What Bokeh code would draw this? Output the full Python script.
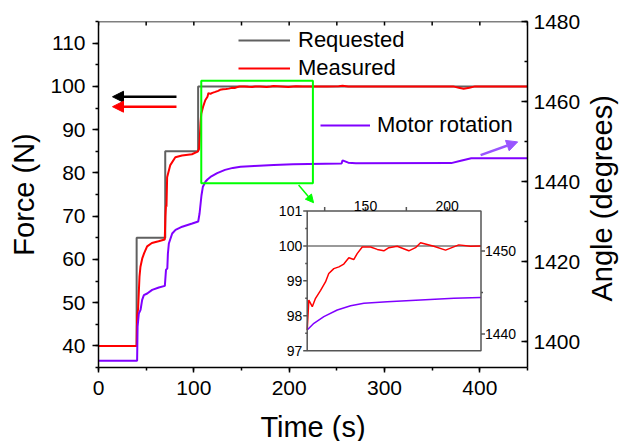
import numpy as np
from bokeh.plotting import figure
from bokeh.models import (Range1d, LinearAxis, SingleIntervalTicker, FixedTicker, Legend,
                          LegendItem, Arrow, NormalHead)
from bokeh.core.properties import value
from bokeh.embed import file_html
from bokeh.resources import INLINE

# ---------------- data ----------------
time_requested = [0, 40, 40, 70, 70, 104.5, 104.5, 450]
force_requested = [40, 40, 65, 65, 85, 85, 100, 100]

time_measured = [0, 40, 40.5, 41.5, 42.2, 43, 44, 46, 48, 51, 56, 63, 69.5, 70.2, 70.8, 71.3, 72,
                 75.3, 80.6, 87.6, 98, 104, 105.5, 106.2, 107, 107.8, 110, 112, 114.3, 115.3,
                 117.4, 119.4, 122.5, 125.5, 127.5, 130.6, 133.7, 136.7, 139.8, 142.8, 144.9,
                 148, 153.1, 157.2, 161.2, 164.3, 169.4, 176.5, 180.6, 183.7, 191.8, 199, 207.1,
                 214.3, 220.4, 240, 252, 256, 262, 300, 372, 378, 383, 389, 395, 450]
force_measured = [40, 40, 47, 48.5, 52, 56, 58.3, 60.3, 61.5, 63, 63.8, 64.2, 64.6, 70, 72.5, 72.2,
                  79, 81.8, 83.6, 84.0, 84.3, 84.9, 85.5, 88, 91.5, 93.7, 95.5, 96.8, 97.59, 98.45,
                  98.26, 98.5, 98.73, 98.97, 99.21, 99.35, 99.4, 99.48, 99.66, 99.61, 99.78,
                  99.97, 99.97, 99.9, 99.86, 99.95, 99.99, 99.86, 99.95, 100.09, 99.99, 99.88,
                  100.03, 99.99, 100, 99.95, 100.05, 100.15, 99.95, 100, 100, 99.7, 99.45, 99.7,
                  100, 100]

time_rotation = [0, 40.5, 41, 42.3, 44.1, 45.8, 47.6, 51.1, 56.3, 63.3, 69.6, 70.8, 72.2, 72.8,
                 73.8, 77.3, 80.8, 87.8, 98.3, 104.6, 106, 108, 109.5, 112.3, 114.3, 118.4, 124.5,
                 132.7, 140.9, 149, 163.3, 183.7, 204.1, 220.4, 255, 256, 262, 270, 370, 380,
                 391, 450]
angle_rotation = [1395.2, 1395.2, 1403.7, 1407, 1407.9, 1410.4, 1411.6, 1412.0, 1412.9, 1413.5,
                  1413.9, 1417.9, 1418.3, 1422, 1424.5, 1427, 1427.9, 1428.7, 1429.5, 1430, 1432,
                  1436.5, 1438.7, 1440.0, 1440.5, 1441.3, 1442.1, 1442.9, 1443.4, 1443.7, 1443.9,
                  1444.1, 1444.3, 1444.4, 1444.5, 1445.3, 1444.7, 1444.55, 1444.6, 1445.2,
                  1445.8, 1445.8]

main_x_limits = [0, 450]
main_force_limits = [35, 115]
main_angle_limits = [1393.5, 1480]
main_top_ticks = [0, 50, 100, 150, 200, 250, 300, 350, 400, 450]

inset_x_limits = [114.3, 220.7]
inset_force_limits = [97, 101]
inset_angle_limits = [1438, 1454.8]
inset_force_ticks = [97, 98, 99, 100, 101]
inset_force_minor = [97.5, 98.5, 99.5, 100.5]
inset_time_ticks = [150, 200]
inset_time_minor = [125, 175]
inset_angle_ticks = [1440, 1450]
inset_angle_minor = [1445]

zoom_box_time = [107.8, 224.9]
zoom_box_force = [77.6, 101.3]

arrow_black = [81.8, 97.6, 14.7, 97.6]
arrow_red = [81.8, 95.3, 14.7, 95.3]
arrow_purple = [400.8, 1446.6, 439.7, 1449.9]
arrow_green = [209.9, 77.2, 225.6, 73.1]

# ---------------- styling ----------------
FONT = "Liberation Sans"
C_REQ = "#606060"
C_MEAS = "#ff0000"
C_ROT = "#8000ff"
C_ROT_ARROW = "#9955ff"
C_GREEN = "#00ff00"
TICK_FS = "21px"
TITLE_FS = "29px"

B_L, B_R, B_T, B_B = 98, 112, 21, 92
FW, FH = 429, 346
W, H = B_L + FW + B_R, B_T + FH + B_B
p = figure(width=W, height=H, output_backend="svg", toolbar_location=None,
           x_range=Range1d(*main_x_limits), y_range=Range1d(*main_force_limits),
           min_border_left=B_L, min_border_right=B_R, min_border_top=B_T, min_border_bottom=B_B)
p.grid.visible = False
p.outline_line_color = None
p.background_fill_color = "white"
p.border_fill_color = "white"
p.extra_y_ranges = {"angle": Range1d(*main_angle_limits)}

def style_axis(ax, tick_out, tick_in, minor_out, minor_in, standoff, title=None, title_standoff=0):
    ax.axis_line_width = 1.5
    ax.axis_line_color = "black"
    ax.major_tick_line_width = 1.5
    ax.minor_tick_line_width = 1.5
    ax.major_tick_out = tick_out
    ax.major_tick_in = tick_in
    ax.minor_tick_out = minor_out
    ax.minor_tick_in = minor_in
    ax.major_label_text_font = FONT
    ax.major_label_text_font_size = TICK_FS
    ax.major_label_text_color = "black"
    ax.major_label_standoff = standoff
    if title:
        ax.axis_label = title
        ax.axis_label_text_font = FONT
        ax.axis_label_text_font_size = TITLE_FS
        ax.axis_label_text_font_style = "normal"
        ax.axis_label_text_color = "black"
        ax.axis_label_standoff = title_standoff

xa = p.xaxis[0]
xa.ticker = SingleIntervalTicker(interval=100, num_minor_ticks=2)
style_axis(xa, 5, 0, 3, 0, 8, "Time (s)", 13)

ya = p.yaxis[0]
ya.ticker = SingleIntervalTicker(interval=10, num_minor_ticks=2)
style_axis(ya, 6, 0, 3, 0, 7, "Force (N)", 7)

ra = LinearAxis(y_range_name="angle", ticker=SingleIntervalTicker(interval=20, num_minor_ticks=2))
style_axis(ra, 0, 6, 0, 3, 6)
p.add_layout(ra, "right")

# right title, reading bottom-to-top: drawn as the single label of a bare outer axis,
# anchored where the text starts (its lower end)
angle_title_anchor = 1410
ta = LinearAxis(y_range_name="angle", ticker=FixedTicker(ticks=[angle_title_anchor], minor_ticks=[]),
                major_label_overrides={angle_title_anchor: "Angle (degrees)"},
                major_label_orientation=np.pi / 2,
                axis_line_color=None, major_tick_line_color=None, minor_tick_line_color=None,
                major_tick_out=0, major_tick_in=0, minor_tick_out=0, minor_tick_in=0,
                major_label_standoff=18, major_label_text_font=FONT,
                major_label_text_font_size=TITLE_FS, major_label_text_color="black")
p.add_layout(ta, "right")

# top frame line with inward ticks
top_y = main_force_limits[1]
p.line(main_x_limits, [top_y, top_y], line_color="black", line_width=1.5)
p.ray(x=main_top_ticks, y=[top_y] * len(main_top_ticks), length=4, angle=-np.pi / 2,
      length_units="screen", line_color="black", line_width=1.5)

# ---------------- main series ----------------
r_req = p.line(time_requested, force_requested, line_color=C_REQ, line_width=2)
r_meas = p.line(time_measured, force_measured, line_color=C_MEAS, line_width=2)
r_rot = p.line(time_rotation, angle_rotation, line_color=C_ROT, line_width=2, y_range_name="angle")

# zoom box
p.quad(left=[zoom_box_time[0]], right=[zoom_box_time[1]], bottom=[zoom_box_force[0]],
       top=[zoom_box_force[1]], fill_alpha=0, line_color=C_GREEN, line_width=2)

# arrows
def add_arrow(a, color, width, size, yname="default"):
    kw = {} if yname == "default" else {"y_range_name": yname}
    p.add_layout(Arrow(end=NormalHead(size=size, fill_color=color, line_color=color, line_width=1),
                       x_start=a[0], y_start=a[1], x_end=a[2], y_end=a[3],
                       line_color=color, line_width=width, **kw))

add_arrow(arrow_black, "black", 2.5, 11)
add_arrow(arrow_red, C_MEAS, 2.5, 11)
add_arrow(arrow_purple, C_ROT_ARROW, 2.5, 11, "angle")
add_arrow(arrow_green, C_GREEN, 1.5, 8)

# ---------------- inset (mapped into a sub-rectangle of the frame) ----------------
IN_L, IN_R, IN_T, IN_B = 208.7, 382.5, 189.5, 329.2

def ext_x(lo, hi):
    s = (hi - lo) / (IN_R - IN_L)
    return Range1d(lo - IN_L * s, hi + (FW - IN_R) * s)

def ext_y(lo, hi):
    s = (hi - lo) / (IN_B - IN_T)
    return Range1d(lo - (FH - IN_B) * s, hi + IN_T * s)

p.extra_x_ranges = {"ix": ext_x(*inset_x_limits)}
p.extra_y_ranges["iyl"] = ext_y(*inset_force_limits)
p.extra_y_ranges["iyr"] = ext_y(*inset_angle_limits)

ix0, ix1 = inset_x_limits
IL = dict(x_range_name="ix", y_range_name="iyl")
IR = dict(x_range_name="ix", y_range_name="iyr")

def clip(t, v, lo, hi):
    t = np.asarray(t, float)
    v = np.asarray(v, float)
    m = (t > lo) & (t < hi)
    tt = np.concatenate([[lo], t[m], [hi]])
    vv = np.concatenate([[np.interp(lo, t, v)], v[m], [np.interp(hi, t, v)]])
    return tt, vv

p.quad(left=[ix0], right=[ix1], bottom=[inset_force_limits[0]], top=[inset_force_limits[1]],
       fill_color="white", line_color=None, **IL)

t_rq, f_rq = clip(time_requested[6:], force_requested[6:], ix0, ix1)
p.line(t_rq, f_rq, line_color="#999999", line_width=2, **IL)
t_m, f_m = clip(time_measured, force_measured, ix0, ix1)
p.line(t_m, f_m, line_color=C_MEAS, line_width=1.5, **IL)
t_r, a_r = clip(time_rotation, angle_rotation, ix0, ix1)
p.line(t_r, a_r, line_color=C_ROT, line_width=1.5, **IR)

p.quad(left=[ix0], right=[ix1], bottom=[inset_force_limits[0]], top=[inset_force_limits[1]],
       fill_alpha=0, line_color="#555555", line_width=1.5, **IL)

TK = dict(line_color="#555555", line_width=1.5, length_units="screen")
# left inset ticks
p.ray(x=[ix0] * len(inset_force_ticks), y=inset_force_ticks, length=4, angle=np.pi, **TK, **IL)
p.ray(x=[ix0] * len(inset_force_minor), y=inset_force_minor, length=2, angle=np.pi, **TK, **IL)
p.text(x=[ix0] * len(inset_force_ticks), y=inset_force_ticks,
       text=[str(v) for v in inset_force_ticks], text_font=value(FONT), text_font_size="14px",
       text_align="right", text_baseline="middle", x_offset=-5, text_color="black", **IL)
# top inset ticks
itop = inset_force_limits[1]
p.ray(x=inset_time_ticks + inset_time_minor, y=[itop] * 4, length=4, angle=np.pi / 2, **TK, **IL)
p.text(x=inset_time_ticks, y=[itop] * len(inset_time_ticks),
       text=[str(v) for v in inset_time_ticks], text_font=value(FONT), text_font_size="14px",
       text_align="center", text_baseline="alphabetic", y_offset=-5, text_color="black", **IL)
# right inset ticks
p.ray(x=[ix1] * len(inset_angle_ticks), y=inset_angle_ticks, length=4, angle=0, **TK, **IR)
p.ray(x=[ix1] * len(inset_angle_minor), y=inset_angle_minor, length=2, angle=0, **TK, **IR)
p.text(x=[ix1] * len(inset_angle_ticks), y=inset_angle_ticks,
       text=[str(v) for v in inset_angle_ticks], text_font=value(FONT), text_font_size="14px",
       text_align="left", text_baseline="middle", x_offset=4, text_color="black", **IR)

# ---------------- legends (location = bottom-left corner, from frame bottom-left) ----------------
def make_legend(items, loc, gw, standoff):
    lg = Legend(items=items, location=loc, orientation="vertical",
                label_text_font=FONT, label_text_font_size="22px", label_text_color="black",
                label_height=28, glyph_height=28, glyph_width=gw, label_standoff=standoff,
                spacing=0, padding=0, margin=0, border_line_alpha=0, background_fill_alpha=0)
    p.add_layout(lg, "center")

make_legend([LegendItem(label="Requested", renderers=[r_req]),
             LegendItem(label="Measured", renderers=[r_meas])], (140, FH - 60.5), 52, 8)
make_legend([LegendItem(label="Motor rotation", renderers=[r_rot])], (222, FH - 117.5), 50, 7)

open("out.html", "w").write(file_html(p, INLINE))
